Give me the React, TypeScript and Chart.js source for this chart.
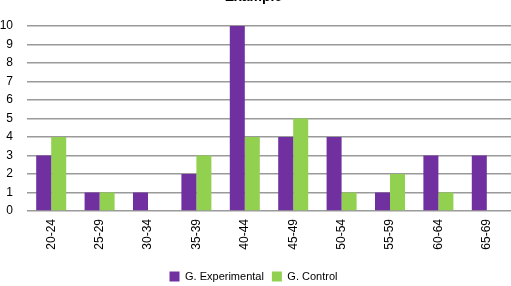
import React, { useEffect, useRef } from "react";
import { Chart, registerables } from "chart.js";

Chart.register(...registerables);

const categories = ["20-24", "25-29", "30-34", "35-39", "40-44", "45-49", "50-54", "55-59", "60-64", "65-69"];
const experimental = [3, 1, 1, 2, 10, 4, 4, 1, 3, 3];
const control = [4, 1, 0, 3, 4, 5, 1, 2, 1, 0];
const yTicks = [0, 1, 2, 3, 4, 5, 6, 7, 8, 9, 10];

const FONT = "'Liberation Sans', Arial, sans-serif";

export default function App() {
  const canvasRef = useRef<HTMLCanvasElement | null>(null);

  useEffect(() => {
    if (!canvasRef.current) return;
    const chart = new Chart(canvasRef.current, {
      type: "bar",
      data: {
        labels: categories,
        datasets: [
          {
            label: "G. Experimental",
            data: experimental,
            backgroundColor: "#7030A0",
            borderWidth: 0,
            barPercentage: 1,
            categoryPercentage: 0.62,
          },
          {
            label: "G. Control",
            data: control,
            backgroundColor: "#92D050",
            borderWidth: 0,
            barPercentage: 1,
            categoryPercentage: 0.62,
          },
        ],
      },
      options: {
        animation: false,
        responsive: false,
        maintainAspectRatio: false,
        layout: { padding: { left: 0, right: 0, top: 0, bottom: 0 } },
        plugins: {
          title: {
            display: true,
            text: "Example",
            color: "#000",
            font: { family: FONT, size: 14, weight: "bold" },
            padding: { top: 9, bottom: 20 },
          },
          legend: {
            position: "bottom",
            labels: {
              boxWidth: 10,
              boxHeight: 10,
              color: "#000",
              font: { family: FONT, size: 11 },
              padding: 8,
            },
          },
          tooltip: { enabled: false },
        },
        scales: {
          x: {
            grid: { display: false, drawTicks: false },
            border: { display: false },
            ticks: {
              color: "#000",
              font: { family: FONT, size: 12 },
              minRotation: 90,
              maxRotation: 90,
              padding: 8,
            },
            afterFit: (scale: any) => {
              scale.height = 52;
            },
          },
          y: {
            min: 0,
            max: 10,
            afterBuildTicks: (scale: any) => {
              scale.ticks = yTicks.map((v) => ({ value: v }));
            },
            grid: { color: "#9a9a9a", lineWidth: 1.5, drawTicks: false },
            border: { display: false },
            ticks: {
              color: "#000",
              font: { family: FONT, size: 12 },
              padding: 14,
            },
            afterFit: (scale: any) => {
              scale.width = 31;
            },
          },
        },
      },
    });
    return () => chart.destroy();
  }, []);

  return (
    <div style={{ position: "fixed", left: -4, top: -20, width: 515, height: 312, background: "#fff" }}>
      <canvas ref={canvasRef} width={515} height={312} />
    </div>
  );
}
